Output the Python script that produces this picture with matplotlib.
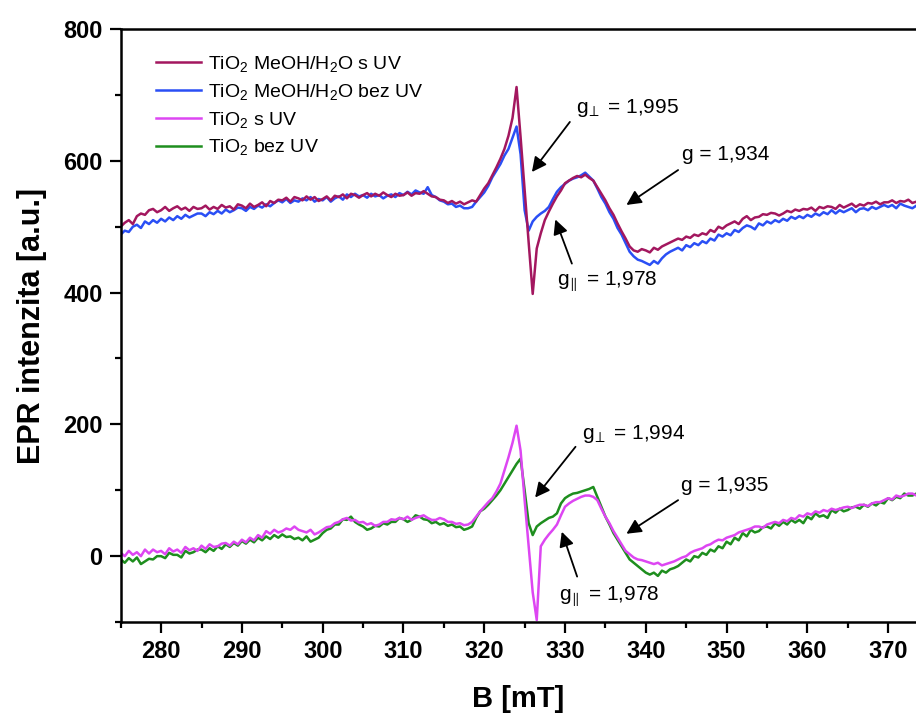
import matplotlib
matplotlib.use("Agg")
import matplotlib.pyplot as plt
import numpy as np
from matplotlib.ticker import MultipleLocator


# ==========================================
# 1. Data (0.5 mT step)
# ==========================================

field_start = 275.0
field_step = 0.5

# TiO2 MeOH/H2O s UV
meoh_uv = [
    500, 506, 510, 504, 516, 520, 518, 525, 527, 522,
    525, 530, 524, 528, 531, 526, 529, 524, 530, 527,
    528, 532, 526, 530, 527, 533, 529, 531, 526, 534,
    532, 528, 535, 530, 533, 537, 531, 539, 536, 541,
    540, 544, 538, 545, 543, 540, 546, 541, 545, 539,
    542, 546, 540, 547, 545, 549, 543, 550, 548, 544,
    548, 551, 546, 550, 547, 552, 548, 545, 550, 547,
    548, 552, 547, 551, 550, 554, 550, 546, 545, 541,
    540, 536, 539, 535, 538, 534, 537, 540, 538, 548,
    558, 566, 578, 590, 603, 618, 638, 665, 712, 636,
    555, 476, 398, 467, 490, 510, 523, 535, 546, 555,
    566, 570, 574, 577, 575, 579, 574, 570, 560, 550,
    540, 528, 518, 505, 493, 482, 470, 464, 462, 466,
    464, 461, 468, 465, 470, 473, 476, 479, 482, 480,
    485, 483, 488, 486, 490, 488, 495, 492, 500, 497,
    502, 505, 508, 504, 512, 516, 510, 514, 515, 519,
    518, 521, 520, 517, 520, 524, 522, 526, 524, 527,
    526, 529, 524, 530, 528, 531, 530, 527, 533, 529,
    532, 535, 530, 534, 532, 536, 535, 538, 534, 537,
    537, 540, 536, 539, 538, 541, 536, 538, 535,
]

# TiO2 MeOH/H2O bez UV
meoh_dark = [
    488, 494, 492, 500, 503, 498, 508, 504, 510, 506,
    512, 508, 514, 510, 516, 512, 518, 514, 517, 520,
    520, 516, 522, 519, 524, 520, 526, 522, 525, 529,
    528, 524, 530, 527, 532, 529, 534, 531, 536, 540,
    537, 542, 536, 540, 538, 543, 540, 545, 538, 542,
    540, 545, 538, 543, 546, 541, 549, 545, 550, 546,
    548, 544, 550, 546, 548, 543, 547, 549, 545, 551,
    548, 553, 549, 555, 552, 550, 560, 548, 545, 540,
    538, 534, 535, 530, 532, 528, 528, 530, 538, 545,
    552, 562, 575, 585, 595, 608, 618, 635, 652, 610,
    525, 494, 508, 515, 520, 524, 530, 542, 553, 560,
    565, 570, 573, 575, 578, 582, 576, 570, 558, 545,
    535, 522, 512, 498, 488, 475, 462, 455, 450, 448,
    445, 442, 448, 444, 452, 458, 462, 465, 468, 464,
    472, 469, 475, 472, 478, 475, 482, 479, 488, 485,
    490, 487, 495, 492, 498, 502, 500, 496, 505, 502,
    508, 505, 510, 507, 512, 509, 515, 512, 516, 513,
    518, 515, 520, 517, 522, 519, 525, 520, 525, 522,
    525, 528, 522, 527, 528, 525, 530, 527, 530, 533,
    530, 533, 528, 535, 532, 530, 528, 532, 530,
]

# TiO2 s UV
tio2_uv = [
    5, 0, 8, 2, 6, 0, 10, 4, 10, 6,
    8, 3, 12, 7, 10, 5, 14, 9, 12, 8,
    16, 11, 18, 14, 15, 19, 20, 16, 22, 18,
    25, 21, 28, 24, 32, 28, 38, 34, 40, 36,
    38, 42, 40, 45, 40, 38, 36, 40, 33, 36,
    40, 44, 45, 50, 52, 56, 58, 54, 55, 51,
    52, 48, 50, 46, 48, 52, 52, 56, 55, 58,
    56, 60, 55, 58, 60, 62, 58, 55, 55, 58,
    56, 52, 52, 49, 50, 47, 48, 52, 60, 68,
    75, 82, 88, 98, 110, 130, 150, 172, 198, 160,
    85, 15, -55, -97, 15, 25, 33, 40, 48, 62,
    75, 80, 84, 87, 90, 92, 92, 90, 85, 72,
    60, 50, 38, 28, 18, 8, 3, -2, -5, -6,
    -8, -10, -12, -10, -14, -12, -10, -8, -5, -2,
    0, 5, 8, 10, 12, 16, 18, 22, 25, 24,
    28, 30, 32, 36, 38, 40, 42, 45, 45, 43,
    48, 50, 52, 50, 55, 53, 58, 56, 62, 60,
    65, 63, 68, 66, 70, 68, 72, 70, 72, 74,
    75, 73, 76, 78, 78, 76, 80, 82, 82, 85,
    88, 86, 92, 90, 92, 95, 95, 92, 95,
]

# TiO2 bez UV
tio2_dark = [
    -5, -10, -3, -8, -2, -12, -8, -4, -5, 0,
    0, -3, 5, 2, 2, -2, 8, 4, 6, 10,
    10, 6, 12, 8, 15, 11, 18, 14, 20, 16,
    23, 19, 25, 21, 28, 24, 30, 26, 32, 28,
    33, 29, 30, 26, 28, 24, 30, 22, 25, 28,
    35, 40, 42, 48, 48, 56, 55, 60, 52, 48,
    45, 40, 42, 46, 45, 50, 48, 52, 52, 58,
    56, 52, 55, 62, 60, 56, 55, 50, 52, 48,
    50, 46, 48, 44, 45, 40, 42, 45, 58, 68,
    72, 78, 85, 92, 100, 110, 120, 130, 140, 148,
    100, 50, 32, 45, 50, 54, 58, 60, 65, 80,
    88, 92, 95, 96, 98, 100, 102, 105, 90, 75,
    60, 48, 35, 25, 15, 5, -5, -10, -15, -20,
    -25, -28, -25, -30, -22, -25, -20, -18, -15, -10,
    -5, -8, 0, -2, 5, 2, 10, 7, 15, 12,
    22, 18, 28, 24, 35, 30, 40, 36, 38, 44,
    45, 42, 50, 46, 52, 48, 55, 51, 55, 50,
    60, 56, 65, 60, 62, 58, 70, 66, 72, 68,
    70, 74, 75, 72, 78, 75, 80, 77, 82, 80,
    88, 85, 90, 88, 95, 92, 92, 95, 92,
]

labels = [
    "TiO$_2$ MeOH/H$_2$O s UV",
    "TiO$_2$ MeOH/H$_2$O bez UV",
    "TiO$_2$ s UV",
    "TiO$_2$ bez UV",
]
colors = ["#A3175F", "#2A4FF5", "#DD46F2", "#1E8E1E"]

# g-factor annotations: text, text position, arrow tail, arrow head
annotations = [
    ("g$_{\\!\\perp}$ = 1,995", (331.3, 680), (330.6, 659), (325.9, 583)),
    ("g = 1,934", (344.5, 609), (344.0, 586), (337.6, 533)),
    ("g$_{\\!\\parallel}$ = 1,978", (329.0, 416), (330.85, 444), (328.8, 511)),
    ("g$_{\\!\\perp}$ = 1,994", (332.1, 186), (331.3, 166), (326.3, 89)),
    ("g = 1,935", (344.4, 107), (344.0, 85), (337.6, 34)),
    ("g$_{\\!\\parallel}$ = 1,978", (329.2, -62), (331.5, -31), (329.6, 37)),
]


# ==========================================
# 2. Figure setup
# ==========================================

plt.rcParams["font.family"] = ["Liberation Sans", "DejaVu Sans"]
plt.rcParams["mathtext.default"] = "regular"

field = field_start + field_step * np.arange(len(meoh_uv))

fig = plt.figure(figsize=(9.16, 7.15), dpi=100)
ax = fig.add_axes([0.1318, 0.130, 0.8682, 0.8294])

series = [meoh_uv, meoh_dark, tio2_uv, tio2_dark]
handles = [None] * 4

# draw order: dark spectra below the UV ones
for idx in [1, 0, 3, 2]:
    (line,) = ax.plot(
        field,
        series[idx],
        color=colors[idx],
        linewidth=1.8,
        label=labels[idx],
    )
    handles[idx] = line


# ==========================================
# 3. Annotations
# ==========================================

for text, text_pos, tail, head in annotations:
    ax.annotate(
        "",
        xy=head,
        xytext=tail,
        arrowprops=dict(
            arrowstyle="-|>",
            color="black",
            lw=1.3,
            mutation_scale=22,
            shrinkA=0,
            shrinkB=0,
        ),
    )
    ax.text(
        text_pos[0],
        text_pos[1],
        text,
        fontsize=15,
        ha="left",
        va="center",
    )


# ==========================================
# 4. Axes styling
# ==========================================

ax.set_xlim(275, 373.45)
ax.set_ylim(-100, 800)

ax.xaxis.set_major_locator(MultipleLocator(10))
ax.xaxis.set_minor_locator(MultipleLocator(5))
ax.yaxis.set_major_locator(MultipleLocator(200))
ax.yaxis.set_minor_locator(MultipleLocator(100))

ax.spines["right"].set_visible(False)
for side in ["left", "bottom", "top"]:
    ax.spines[side].set_linewidth(1.8)

ax.tick_params(
    which="major",
    direction="out",
    length=8,
    width=1.6,
    labelsize=17,
    pad=5,
)
ax.tick_params(which="minor", direction="out", length=4, width=1.6)
ax.tick_params(top=False, right=False, which="both")

for lab in ax.get_xticklabels() + ax.get_yticklabels():
    lab.set_fontweight("bold")

ax.set_xlabel("B [mT]", fontsize=21, fontweight="bold", labelpad=16)
ax.set_ylabel("EPR intenzita [a.u.]", fontsize=22, fontweight="bold", labelpad=12)

ax.legend(
    handles=handles,
    loc="upper left",
    bbox_to_anchor=(156 / 916, 1 - 54 / 715),
    bbox_transform=fig.transFigure,
    frameon=False,
    fontsize=14,
    handlelength=2.3,
    handletextpad=0.4,
    labelspacing=0.4,
    borderpad=0,
    borderaxespad=0,
)

fig.savefig("out.png", dpi=100)
